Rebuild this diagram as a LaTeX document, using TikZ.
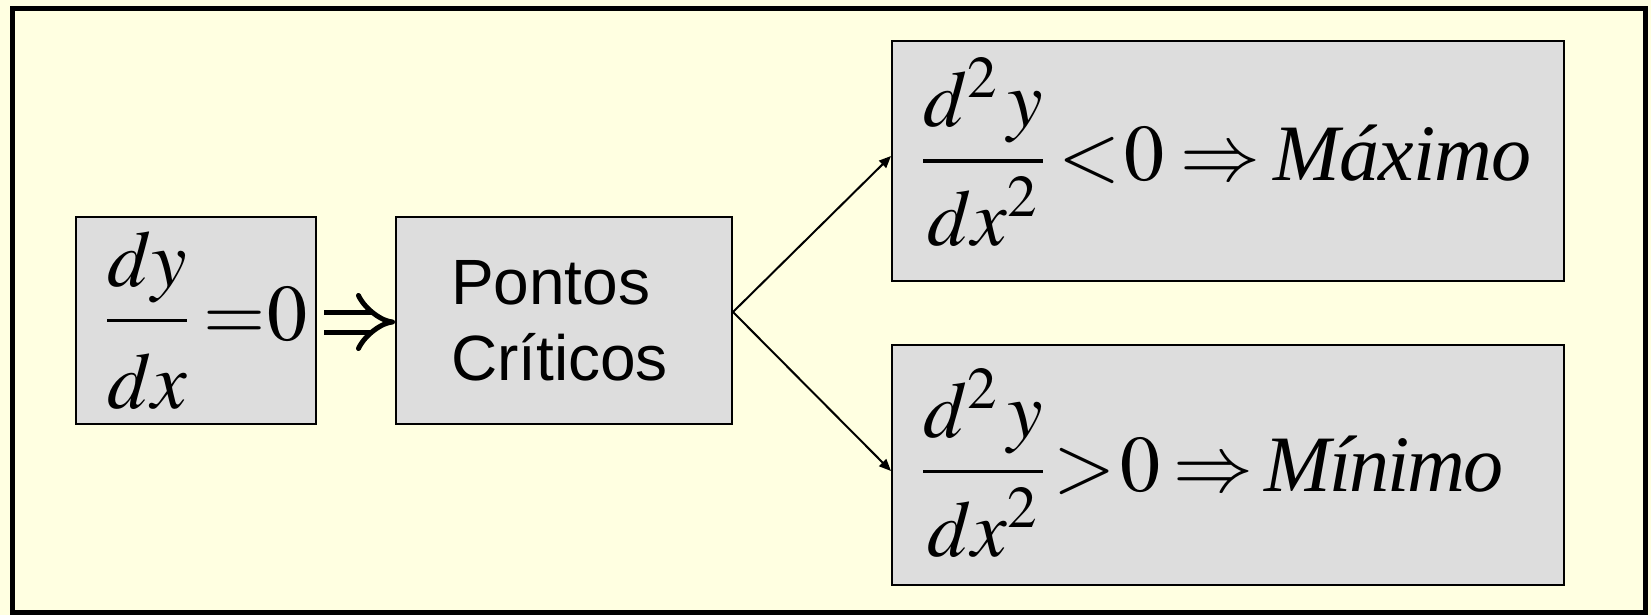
\documentclass[tikz,border=0pt]{standalone}
\usepackage{mathptmx}
\usepackage{amsmath}
\usepackage[no-math]{fontspec}
\newfontfamily\arialfont{Liberation Sans}
\newfontfamily\tnrfont{Liberation Serif}
\usetikzlibrary{arrows.meta}
\definecolor{bgyellow}{HTML}{FFFFE1}
\definecolor{boxgray}{HTML}{DDDDDD}
\newcommand{\lowden}[2]{\raisebox{-#1}[\height][\depth]{$#2$}}
\begin{document}
\begin{tikzpicture}[x=0.5pt,y=-0.5pt,
  box/.style={draw=black, line width=1pt, fill=boxgray, rectangle, inner ysep=0pt, align=left},
  mathfont/.style={font=\fontsize{40}{46}\selectfont},
  conn/.style={draw=black, line width=1pt, -{Triangle[length=6pt,width=5pt]}},
  implies/.style={draw=black, double=bgyellow, line width=2.5pt, double distance=7.5pt,
                  shorten <=3.5pt, -{Implies[scale=0.8]}}]
\useasboundingbox (0,0) rectangle (1651,615);
\fill[bgyellow] (0,0) rectangle (1651,615);
\draw[line width=2.5pt] (12.6,8.4) rectangle (1645.5,612);

\node[box, mathfont, minimum width=120pt, minimum height=103.5pt, inner xsep=14.5pt, text width=91pt,
      text height=45pt, text depth=25pt] (b1) at (196,320.5)
  {\mbox{$\dfrac{dy}{\lowden{6.5pt}{dx}}\mskip3mu{=}\mskip0.5mu 0$}};
\node[box, font=\arialfont\fontsize{32}{38}\selectfont, minimum width=168pt, minimum height=103.5pt, inner xsep=0pt, text width=168pt] (b2) at (564,320.5)
  {\hspace*{27.5pt}Pontos\\\hspace*{27.5pt}Críticos};
\node[box, mathfont, minimum width=336pt, minimum height=120pt, inner xsep=14.5pt, text width=307pt,
      text height=45pt, text depth=25pt] (b3) at (1228,161)
  {\mbox{$\dfrac{d^{2}\mskip2mu y}{\lowden{5pt}{dx^{2}}}\mskip3mu{<}\mskip1mu 0\mskip3.5mu{\Rightarrow}\mskip3mu \mbox{\tnrfont\itshape\addfontfeature{LetterSpace=-1}Máximo}$}};
\node[box, mathfont, minimum width=336pt, minimum height=120pt, inner xsep=14.5pt, text width=307pt,
      text height=48pt, text depth=21.7pt] (b4) at (1228,465)
  {\mbox{$\dfrac{d^{2}\mskip2mu y}{\lowden{5pt}{dx^{2}}}\mskip2mu{>}\mskip1mu 0\mskip3mu{\Rightarrow}\mskip2.5mu \mbox{\tnrfont\itshape\addfontfeature{LetterSpace=-2.6}Mínimo}$}};

\draw[implies] ([yshift=-0.75pt]b1.east) -- ([yshift=-0.75pt]b2.west);
\draw[conn] ([yshift=4.25pt]b2.east) -- ([yshift=2.5pt]b3.west);
\draw[conn] ([yshift=4.25pt]b2.east) -- ([yshift=-3pt]b4.west);
\end{tikzpicture}
\end{document}
